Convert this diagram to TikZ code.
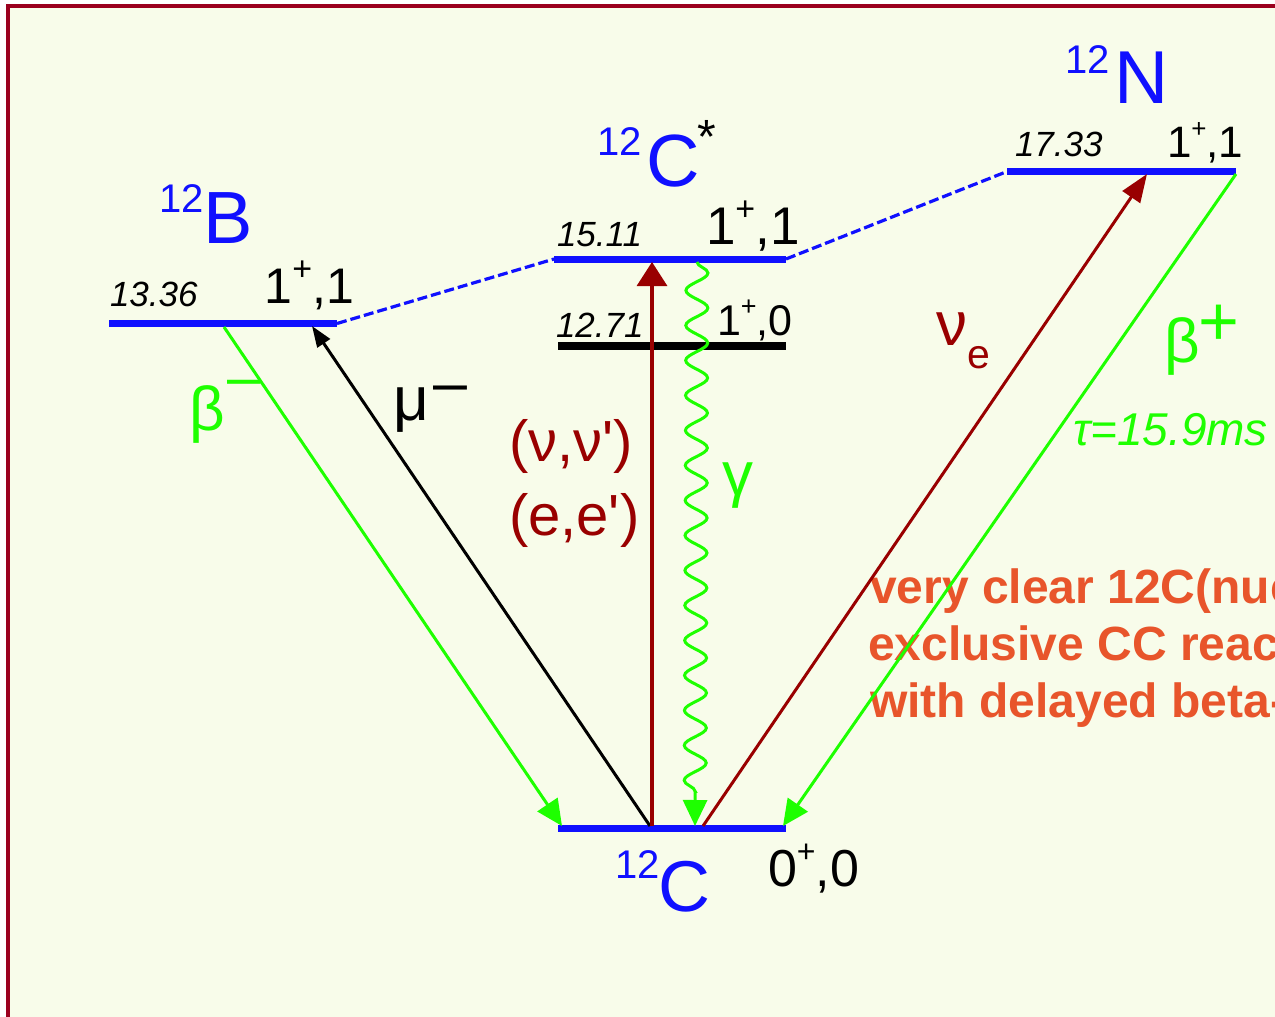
\documentclass[tikz,border=0pt]{standalone}
\usepackage{fontspec}
\setmainfont{Liberation Sans}
\newfontfamily\af{Liberation Sans}
\usetikzlibrary{arrows.meta,decorations.pathmorphing}
\newcommand\fsz[1]{\fontsize{#1}{#1}\selectfont}
\newcommand\jp[4]{\fsz{#1}#3\raisebox{0.45em}{\fsz{#2}+},#4}
\definecolor{bg}{RGB}{248,252,234}
\definecolor{bord}{RGB}{155,0,30}
\definecolor{lblue}{RGB}{16,16,255}
\definecolor{lgreen}{RGB}{30,255,0}
\definecolor{dred}{RGB}{153,0,0}
\definecolor{orng}{RGB}{232,85,43}
\tikzset{
  txt/.style={inner sep=0pt, outer sep=0pt, anchor=base west},
  level/.style={line width=7pt, draw=lblue},
  dashline/.style={line width=3.2pt, draw=lblue, dash pattern=on 10pt off 4pt},
  gline/.style={line width=3pt, draw=lgreen},
  gtip/.style={-{Triangle[length=26pt,width=24pt]}},
}
\begin{document}
\begin{tikzpicture}[x=1pt,y=-1pt]
\useasboundingbox (0,0) rectangle (1275,1017);
\clip (0,0) rectangle (1275,1017);
\fill[white] (0,0) rectangle (1275,1017);
\fill[bg] (8,6) rectangle (1290,1030);
\draw[line width=4pt, bord] (8,1030) -- (8,6) -- (1290,6);

% orange text
\node[txt,text=orng] (o1) at (870,603) {\fsz{48}\bfseries very clear 12C(nuc};
\node[txt,text=orng] (o2) at (868,660) {\fsz{48}\bfseries exclusive CC reac};
\node[txt,text=orng] (o3) at (870,717) {\fsz{48}\bfseries with delayed beta-};

% level coordinates
\coordinate (BL) at (109,323.5); \coordinate (BR) at (337,323.5);
\coordinate (SL) at (554,259);   \coordinate (SR) at (786,259);
\coordinate (TL) at (558,346);   \coordinate (TR) at (786,346);
\coordinate (NL) at (1007,171.5);\coordinate (NR) at (1236,171.5);
\coordinate (GL) at (558,828.5); \coordinate (GR) at (786,828.5);

\draw[level] (BL) -- (BR);
\draw[level] (SL) -- (SR);
\draw[line width=8pt, draw=black] (TL) -- (TR);
\draw[level] (NL) -- (NR);
\draw[level] (GL) -- (GR);
\draw[dashline] (BR) -- (SL);
\draw[dashline] (SR) -- (NL);

% arrow end points
\coordinate (bmS) at (224,327);  \coordinate (bmE) at (562,826);
\coordinate (muS) at (650,826);  \coordinate (muE) at (312,326);
\coordinate (nnS) at (652,826);  \coordinate (nnE) at (652,262);
\coordinate (gS) at (697,262);   \coordinate (gE) at (695,826);
\coordinate (neS) at (703,826);  \coordinate (neE) at (1147,174);
\coordinate (bpS) at (1236,174); \coordinate (bpE) at (783,826);

\draw[gline, gtip] (bmS) -- (bmE);
\draw[line width=3pt, black, -{Triangle[length=21pt,width=15pt]}] (muS) -- (muE);
\draw[line width=3.2pt, dred, -{Triangle[length=24pt,width=30pt]}] (nnS) -- (nnE);
\draw[gline, gtip, decorate, decoration={snake, amplitude=11pt, segment length=35pt, post length=26pt}] (gS) -- (gE);
\draw[line width=3pt, dred, -{Triangle[length=28pt,width=21pt]}] (neS) -- (neE);
\draw[gline, gtip] (bpS) -- (bpE);

% energies
\node[txt] (e1336) at (110,306) {\fsz{35}\itshape 13.36};
\node[txt] (e1511) at (557,246) {\fsz{35}\itshape 15.11};
\node[txt] (e1271) at (556,337) {\fsz{35}\itshape 12.71};
\node[txt] (e1733) at (1015,156) {\fsz{35}\itshape 17.33};

% spin-parity
\node[txt] (jB) at (264.5,303) {\jp{50}{34}{1}{1}};
\node[txt] (jS) at (706,244) {\jp{53}{34}{1}{1}};
\node[txt] (jT) at (717,335) {\jp{43}{27}{1}{0}};
\node[txt] (jN) at (1167,157) {\jp{44}{26}{1}{1}};
\node[txt] (jG) at (768,886) {\jp{52}{32}{0}{0}};

% nuclei
\node[txt,text=lblue] (iB) at (159,212) {\fsz{40}12};
\node[txt,text=lblue] (nB) at (203,243) {\fsz{74}B};
\node[txt,text=lblue] (iCs) at (597,155) {\fsz{40}12};
\node[txt,text=lblue] (nCs) at (646,186) {\fsz{74}C};
\node[txt] (star) at (697.6,153) {\fsz{48}*};
\node[txt,text=lblue] (iN) at (1065,73) {\fsz{40}12};
\node[txt,text=lblue] (nN) at (1114,103) {\fsz{75}N};
\node[txt,text=lblue] (iC) at (615,878) {\fsz{40}12};
\node[txt,text=lblue] (nC) at (658,911) {\fsz{72}C};

% process labels
\node[txt,text=lgreen] (bm) at (189,430) {\fsz{62}β};
\node[txt,text=lgreen] (bmm) at (227,397.5) {\fsz{60}–};
\node[txt] (mu) at (393,420) {\fsz{62}μ};
\node[txt] (mum) at (433,403) {\fsz{61}–};
\node[txt,text=dred] (nn) at (509,461) {\fsz{58}(ν,ν\af')};
\node[txt,text=dred] (ee) at (509,535) {\fsz{58}(e,e\af')};
\node[txt,text=lgreen] (gam) at (722,495) {\fsz{62}γ};
\node[txt,text=dred] (nue) at (936,345) {\fsz{62}ν};
\node[txt,text=dred] (nuesub) at (967,368) {\fsz{41}e};
\node[txt,text=lgreen] (bp) at (1164,362) {\fsz{62}β};
\node[txt,text=lgreen] (bpp) at (1198.6,345) {\fsz{70}+};
\node[txt,text=lgreen] (tau) at (1073,445) {\fsz{46}\itshape τ=15.9ms};
\end{tikzpicture}
\end{document}
